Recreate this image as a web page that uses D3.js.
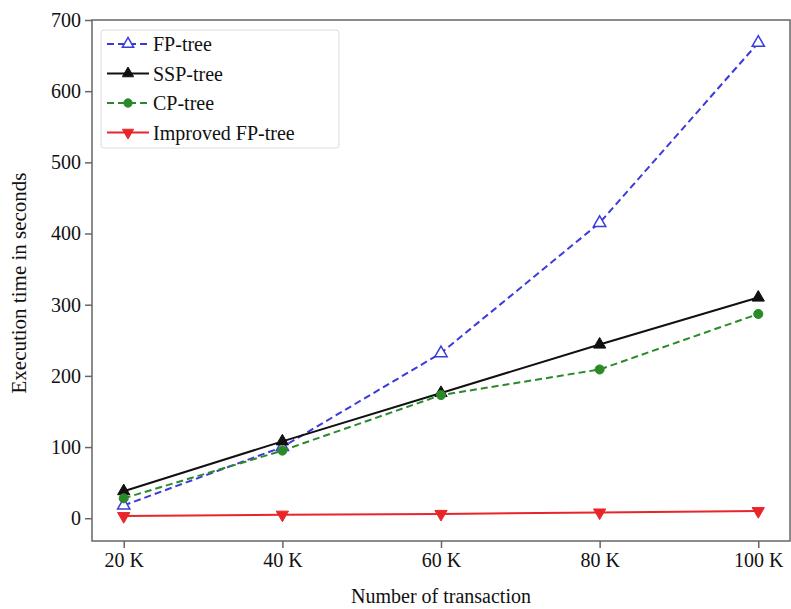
<!DOCTYPE html>
<html>
<head>
<meta charset="utf-8">
<script src="https://cdn.jsdelivr.net/npm/d3@7"></script>
<style>
  body { margin: 0; background: #fff; }
  svg { display: block; font-family: "Liberation Serif", "Times New Roman", serif; }
</style>
</head>
<body>
<div id="chart"></div>
<script>
// data
const categories = [20, 40, 60, 80, 100];
const tickLabels = ["20 K", "40 K", "60 K", "80 K", "100 K"];
const fpTree = [18, 100, 232, 415, 668];
const sspTree = [38, 108, 176, 244, 310];
const cpTree = [28, 95, 173, 209, 287];
const improvedFp = [3, 5, 6, 8, 10];
const yTicks = [0, 100, 200, 300, 400, 500, 600, 700];

const series = [
  { name: "FP-tree", values: fpTree, color: "#3b3bdc", dash: "7,4", symbol: d3.symbolTriangle, open: true },
  { name: "SSP-tree", values: sspTree, color: "#111111", dash: null, symbol: d3.symbolTriangle, open: false },
  { name: "CP-tree", values: cpTree, color: "#2a8a2a", dash: "7,4", symbol: d3.symbolCircle, open: false },
  { name: "Improved FP-tree", values: improvedFp, color: "#e8262a", dash: null, symbol: d3.symbolTriangle, open: false, down: true }
];

const W = 791, H = 609;
const margin = { left: 92, right: 1, top: 20, bottom: 68 };
const width = W - margin.left - margin.right;
const height = H - margin.top - margin.bottom;

const svg = d3.select("#chart").append("svg")
  .attr("width", W).attr("height", H);

const g = svg.append("g")
  .attr("transform", `translate(${margin.left},${margin.top})`);

const x = d3.scaleLinear().domain([16, 104]).range([0, width]);
const y = d3.scaleLinear().domain([-32, 700]).range([height, 0]);

// frame
g.append("rect")
  .attr("width", width).attr("height", height)
  .attr("fill", "none").attr("stroke", "#666").attr("stroke-width", 1.5);

// axes
const xAxis = g.append("g")
  .attr("transform", `translate(0,${height})`)
  .call(d3.axisBottom(x).tickValues(categories)
    .tickFormat((d, i) => tickLabels[i]).tickSize(7).tickPadding(5));
const yAxis = g.append("g")
  .call(d3.axisLeft(y).tickValues(yTicks).tickSize(7).tickPadding(4));

[xAxis, yAxis].forEach(a => {
  a.select(".domain").remove();
  a.selectAll(".tick line").attr("stroke", "#666").attr("stroke-width", 1.5);
  a.selectAll(".tick text").attr("font-size", 20).attr("fill", "#111")
    .attr("font-family", "Liberation Serif, serif");
});

// axis titles
svg.append("text")
  .attr("x", 441).attr("y", 603)
  .attr("text-anchor", "middle").attr("font-size", 20).attr("fill", "#111")
  .text("Number of transaction");
svg.append("text")
  .attr("transform", "translate(26,283) rotate(-90)")
  .attr("text-anchor", "middle").attr("font-size", 21).attr("fill", "#111")
  .text("Execution time in seconds");

const line = d3.line()
  .x((d, i) => x(categories[i]))
  .y(d => y(d));

function marker(sel, s, size) {
  sel.attr("d", d3.symbol().type(s.symbol).size(size))
    .attr("fill", s.open ? "#fff" : s.color)
    .attr("stroke", s.color)
    .attr("stroke-width", s.open ? 1.5 : 1);
}

series.forEach(s => {
  g.append("path")
    .datum(s.values)
    .attr("d", line)
    .attr("fill", "none")
    .attr("stroke", s.color)
    .attr("stroke-width", 2)
    .attr("stroke-dasharray", s.dash);

  g.selectAll(null)
    .data(s.values)
    .join("path")
    .attr("transform", (d, i) => `translate(${x(categories[i])},${y(d)})${s.down ? " rotate(180)" : ""}`)
    .call(marker, s, 65);
});

// legend
const legend = svg.append("g").attr("transform", "translate(101,30)");
legend.append("rect")
  .attr("width", 238).attr("height", 118)
  .attr("fill", "#fff").attr("stroke", "#ddd").attr("stroke-width", 1).attr("rx", 3);

series.forEach((s, i) => {
  const row = legend.append("g").attr("transform", `translate(0,${14 + i * 29.5})`);
  row.append("line")
    .attr("x1", 6).attr("x2", 48).attr("y1", 0).attr("y2", 0)
    .attr("stroke", s.color).attr("stroke-width", 2)
    .attr("stroke-dasharray", s.dash);
  row.append("path")
    .attr("transform", `translate(27,0)${s.down ? " rotate(180)" : ""}`)
    .call(marker, s, 55);
  row.append("text")
    .attr("x", 52).attr("y", 7)
    .attr("font-size", 20).attr("fill", "#111")
    .text(s.name);
});
</script>
</body>
</html>
